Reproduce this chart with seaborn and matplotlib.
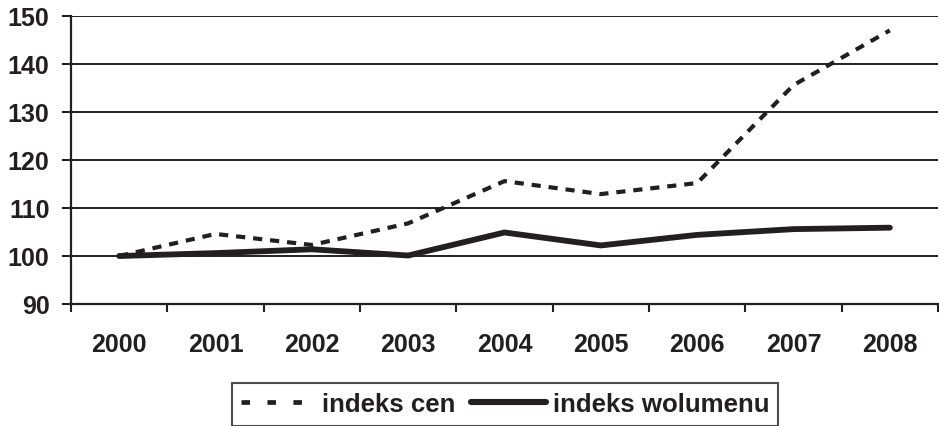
import matplotlib
matplotlib.use("Agg")
import matplotlib.pyplot as plt
import seaborn as sns
import pandas as pd
from matplotlib.ticker import FixedLocator
from matplotlib.lines import Line2D

years = ["2000", "2001", "2002", "2003", "2004", "2005", "2006", "2007", "2008"]
indeks_cen = [100, 104.6, 102.3, 106.8, 115.6, 112.9, 115.2, 135.6, 147.0]
indeks_wolumenu = [100, 100.6, 101.4, 100.1, 104.9, 102.2, 104.4, 105.6, 105.9]
series_names = ["indeks cen", "indeks wolumenu"]
y_ticks = [90, 100, 110, 120, 130, 140, 150]

df = pd.DataFrame({
    "x": list(range(len(years))) * 2,
    "value": indeks_cen + indeks_wolumenu,
    "series": [series_names[0]] * len(years) + [series_names[1]] * len(years),
})

sns.set_theme(style="white")
plt.rcParams["font.family"] = ["Liberation Sans", "DejaVu Sans"]
plt.rcParams["font.weight"] = "bold"
INK = "#231f20"
FS = 18

fig = plt.figure(figsize=(9.39, 4.27), dpi=100)
W, H = 939, 427
ax = fig.add_axes([71 / W, 1 - 305 / H, (938 - 71) / W, (305 - 17) / H])

sns.lineplot(
    data=df, x="x", y="value", hue="series", style="series",
    palette={series_names[0]: INK, series_names[1]: INK},
    dashes={series_names[0]: (2.2, 1.9), series_names[1]: ""},
    ax=ax, legend=False,
)
lines = ax.get_lines()
lines[0].set_linewidth(3.0)
lines[1].set_linewidth(4.2)
lines[1].set_solid_capstyle("round")

ax.set_xlim(-0.5, len(years) - 0.5)
ax.set_ylim(90, 150)
ax.set_yticks(y_ticks)
ax.set_xticks(range(len(years)))
ax.set_xticklabels(years)
ax.xaxis.set_minor_locator(FixedLocator([i - 0.5 for i in range(len(years) + 1)]))
ax.tick_params(axis="x", which="major", length=0, pad=20, labelsize=FS, labelcolor=INK)
ax.tick_params(axis="x", which="minor", length=6, width=1.5, color=INK, direction="out", bottom=True)
ax.tick_params(axis="y", which="major", length=6.5, width=1.5, color=INK, direction="out", left=True, pad=9, labelsize=FS, labelcolor=INK)
for lab in ax.get_xticklabels() + ax.get_yticklabels():
    lab.set_fontweight("bold")

ax.grid(axis="y", color=INK, linewidth=1.4)
ax.grid(axis="x", visible=False)
ax.set_axisbelow(True)
for s in ["top", "right"]:
    ax.spines[s].set_visible(False)
for s in ["left", "bottom"]:
    ax.spines[s].set_color(INK)
    ax.spines[s].set_linewidth(1.6)
ax.set_xlabel("")
ax.set_ylabel("")

proxy_dash = Line2D([], [], color=INK, linewidth=3.4, linestyle=(0, (1.8, 3.7)), dash_capstyle="butt")
proxy_solid = Line2D([], [], color=INK, linewidth=4.4, solid_capstyle="round")
leg = fig.legend(
    handles=[proxy_dash, proxy_solid], labels=series_names, loc="center",
    bbox_to_anchor=(505 / W, 1 - 405.5 / H),
    ncol=2, frameon=True, fancybox=False, handlelength=2.9, handletextpad=0.25,
    columnspacing=0.6, borderpad=0.35, borderaxespad=0,
    prop={"size": 18.6, "weight": "bold"},
)
leg.get_frame().set_edgecolor(INK)
leg.get_frame().set_linewidth(1.5)
for t in leg.get_texts():
    t.set_color(INK)

fig.savefig("out.png", dpi=100)
